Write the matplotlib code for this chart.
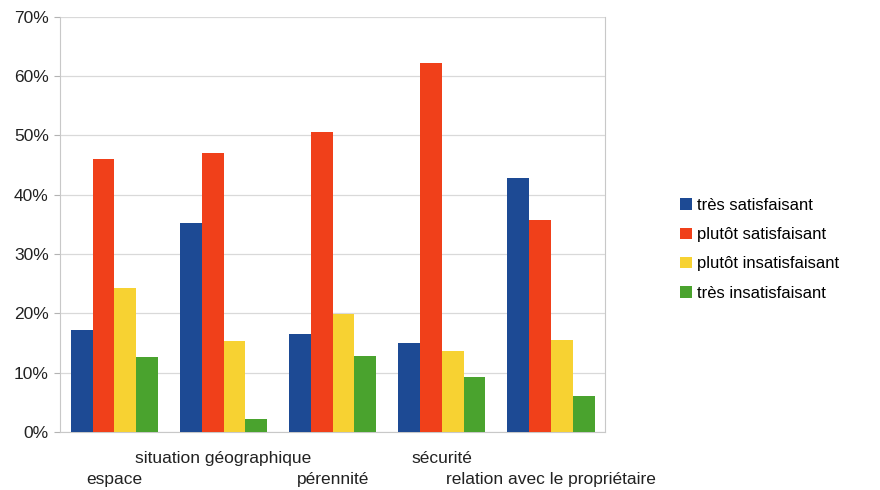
"""
Satisfaction par critère
"""

import matplotlib
matplotlib.use("Agg")
import matplotlib.pyplot as plt
import numpy as np
from matplotlib.ticker import PercentFormatter

plt.rcParams["font.family"] = ["Liberation Sans", "DejaVu Sans"]

# données
categories = ["espace", "situation géographique", "pérennité", "sécurité",
              "relation avec le propriétaire"]
series = ["très satisfaisant", "plutôt satisfaisant",
          "plutôt insatisfaisant", "très insatisfaisant"]
tres_satisfaisant = [17.2, 35.2, 16.5, 15.0, 42.8]
plutot_satisfaisant = [46.0, 47.0, 50.6, 62.2, 35.8]
plutot_insatisfaisant = [24.3, 15.3, 19.9, 13.7, 15.5]
tres_insatisfaisant = [12.6, 2.3, 12.8, 9.3, 6.1]

values = [tres_satisfaisant, plutot_satisfaisant,
          plutot_insatisfaisant, tres_insatisfaisant]
colors = ["#1d4a94", "#f0401a", "#f7d232", "#4aa32e"]

fig = plt.figure(figsize=(8.8, 4.9), dpi=100)
ax = fig.add_axes([0.068, 0.118, 0.62, 0.848])

x = np.arange(len(categories))
width = 0.8 / len(series)
for i, (name, vals) in enumerate(zip(series, values)):
    ax.bar(x + (i - 1.5) * width, vals, width, label=name,
           color=colors[i], zorder=3)

ax.set_xlim(-0.5, len(categories) - 0.5)
ax.set_ylim(0, 70)
ax.set_yticks(range(0, 71, 10))
ax.yaxis.set_major_formatter(PercentFormatter(decimals=0))
ax.tick_params(axis="y", labelsize=12.5, length=4, color="#b3b3b3",
               colors="#222222", pad=4)
ax.tick_params(axis="x", length=0, labelbottom=False)
ax.grid(axis="y", color="#d9d9d9", linewidth=0.9, zorder=0)

for side in ["top"]:
    ax.spines[side].set_visible(False)
for side in ["left", "right", "bottom"]:
    ax.spines[side].set_color("#c8c8c8")

# étiquettes en deux rangées
for i, cat in enumerate(categories):
    y = -0.045 if i % 2 else -0.095
    ax.text(x[i], y, cat, transform=ax.get_xaxis_transform(),
            ha="center", va="top", fontsize=12.5, color="#222222")

leg = ax.legend(loc="center left", bbox_to_anchor=(1.11, 0.44), frameon=False,
                fontsize=12, handlelength=0.7, handleheight=0.7,
                handletextpad=0.3, labelspacing=0.85)

plt.savefig("out.png", dpi=100)
plt.close()
